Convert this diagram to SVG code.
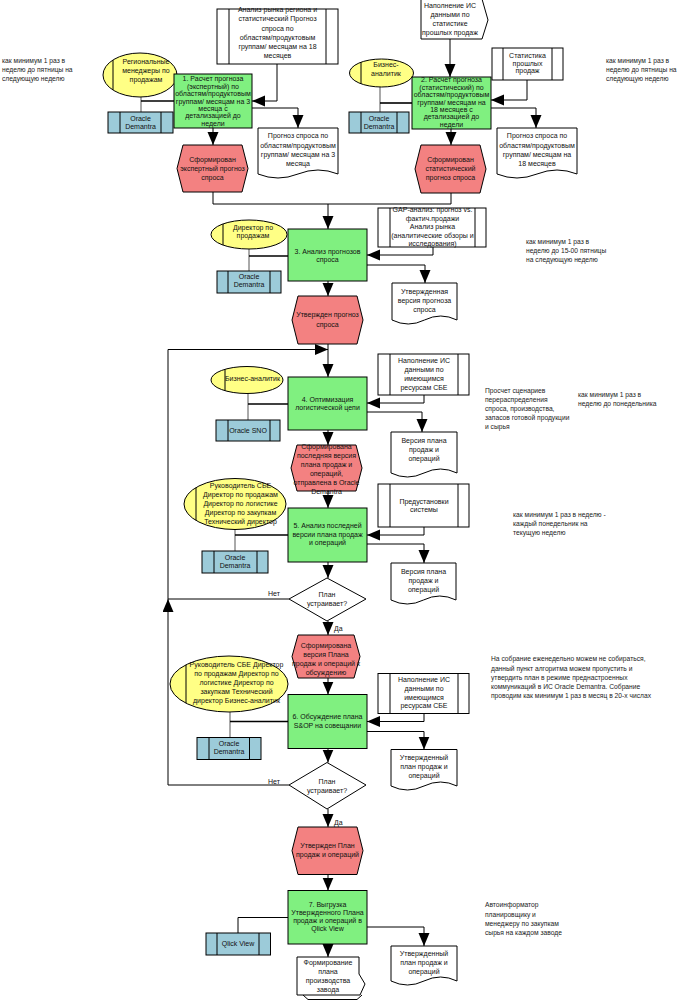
<svg xmlns="http://www.w3.org/2000/svg" width="694" height="1002" viewBox="0 0 694 1002">
<style>
text{font-family:"Liberation Sans",Arial,sans-serif;font-size:7px;fill:#111;text-anchor:middle}
.note{font-size:6.7px;text-anchor:start;fill:#222}
.fn{stroke:#000;stroke-width:1;fill:#80f080}
.ev{stroke:#000;stroke-width:1;fill:#f38181}
.org{stroke:#000;stroke-width:1;fill:#ffff85}
.sys{stroke:#000;stroke-width:1;fill:#9ccbd9}
.dat{stroke:#000;stroke-width:1;fill:#fff}
.bar{stroke:#000;stroke-width:1;fill:none}
.c{stroke:#000;stroke-width:1;fill:none}
.a{stroke:#000;stroke-width:1;fill:none;marker-end:url(#ah)}
.oh{stroke:#000;stroke-width:1.6;fill:none}
.ov{stroke:#555;stroke-width:1;fill:none}
</style>
<defs>
<marker id="ah" markerUnits="userSpaceOnUse" markerWidth="14" markerHeight="12" refX="13" refY="5.5" orient="auto">
<path d="M0,0 L13,5.5 L0,11 Z" fill="#000"/>
</marker>
</defs>
<rect width="694" height="1002" fill="#fff"/>

<g id="connectors">
<!-- section 1 -->
<line class="ov" x1="141" y1="97" x2="141" y2="112"/>
<line class="oh" x1="141" y1="101" x2="174" y2="101"/>
<polyline class="a" points="277,64 277,101 252,101"/>
<polyline class="a" points="252,108 298,108 298,128"/>
<line class="a" x1="213" y1="128" x2="213" y2="145"/>
<!-- section 2 -->
<line class="a" x1="450" y1="39" x2="450" y2="77"/>
<line class="ov" x1="380" y1="84" x2="380" y2="112"/>
<line class="oh" x1="380" y1="103" x2="412" y2="103"/>
<polyline class="a" points="527,80 527,100 491,100"/>
<polyline class="a" points="491,108 536,108 536,128"/>
<line class="a" x1="451" y1="129" x2="451" y2="145"/>
<!-- merge -->
<polyline class="c" points="213,192 213,204 451,204 451,193"/>
<line class="a" x1="328" y1="204" x2="328" y2="229"/>
<!-- section 3 -->
<line class="ov" x1="249" y1="249" x2="249" y2="271"/>
<line class="oh" x1="249" y1="256" x2="288" y2="256"/>
<polyline class="a" points="433,247 433,255 367,255"/>
<polyline class="a" points="367,265 425,265 425,283"/>
<line class="a" x1="328" y1="281" x2="328" y2="296"/>
<!-- section 4 -->
<line class="a" x1="328" y1="344" x2="328" y2="377"/>
<polyline class="a" points="289,599 168,599 168,349.5 328,349.5"/>
<line class="ov" x1="248" y1="393" x2="248" y2="420"/>
<line class="oh" x1="248" y1="404" x2="288" y2="404"/>
<polyline class="a" points="424,395 424,403 367,403"/>
<polyline class="a" points="367,412 422,412 422,432"/>
<line class="a" x1="328" y1="430" x2="328" y2="445"/>
<!-- section 5 -->
<line class="a" x1="328" y1="491" x2="328" y2="508"/>
<line class="ov" x1="235" y1="529" x2="235" y2="551"/>
<line class="oh" x1="235" y1="535" x2="288" y2="535"/>
<polyline class="a" points="424,527 424,535 367,535"/>
<polyline class="a" points="367,544 424,544 424,563"/>
<line class="a" x1="328" y1="562" x2="328" y2="578"/>
<line class="a" x1="328" y1="621" x2="328" y2="635"/>
<!-- section 6 -->
<line class="a" x1="328" y1="678" x2="328" y2="694.5"/>
<line class="ov" x1="230" y1="712" x2="230" y2="737.5"/>
<line class="oh" x1="230" y1="721.5" x2="288" y2="721.5"/>
<polyline class="a" points="424,713.5 424,721.5 367,721.5"/>
<polyline class="a" points="367,731.5 424,731.5 424,749.5"/>
<line class="a" x1="328" y1="748.5" x2="328" y2="762.5"/>
<polyline class="a" points="289,785 168,785 168,599"/>
<line class="a" x1="328" y1="809" x2="328" y2="827"/>
<!-- section 7 -->
<line class="a" x1="328" y1="874.5" x2="328" y2="890.5"/>
<polyline class="c" points="288,917.5 238,917.5 238,933"/>
<polyline class="a" points="367,927 424,927 424,946"/>
<line class="a" x1="328" y1="944" x2="328" y2="957"/>
</g>

<!-- Section 1 -->
<g id="data1">
<rect class="dat" x="217" y="9" width="121" height="55"/>
<line class="bar" x1="229" y1="9" x2="229" y2="64"/><line class="bar" x1="326" y1="9" x2="326" y2="64"/>
<text><tspan x="277.5" y="12.3">Анализ рынка региона и</tspan><tspan x="277.5" y="21.3">статистический Прогноз</tspan><tspan x="277.5" y="30.8">спроса по</tspan><tspan x="277.5" y="39.8">областям/продуктовым</tspan><tspan x="277.5" y="48.8">группам/ месяцам на 18</tspan><tspan x="277.5" y="58.3">месяцев</tspan></text>
</g>
<g id="org1">
<ellipse class="org" cx="140" cy="75" rx="37" ry="22"/>
<line class="bar" x1="113" y1="60" x2="113" y2="90"/>
<text><tspan x="146" y="64.3">Региональные</tspan><tspan x="146" y="73.3">менеджеры по</tspan><tspan x="146" y="82.3">продажам</tspan></text>
</g>
<g id="func1">
<rect class="fn" x="174" y="74" width="78" height="54"/>
<text><tspan x="213" y="81.3">1. Расчет прогноза</tspan><tspan x="213" y="88.7">(экспертный) по</tspan><tspan x="213" y="96.1">областям/продуктовым</tspan><tspan x="213" y="103.5">группам/ месяцам на 3</tspan><tspan x="213" y="110.9">месяца с</tspan><tspan x="213" y="118.3">детализацией до</tspan><tspan x="213" y="125.7">недели</tspan></text>
</g>
<g id="sys1">
<rect class="sys" x="108" y="112" width="65" height="21"/>
<line class="bar" x1="120" y1="112" x2="120" y2="133"/><line class="bar" x1="161" y1="112" x2="161" y2="133"/>
<text><tspan x="140.5" y="120.5">Oracle</tspan><tspan x="140.5" y="129">Demantra</tspan></text>
</g>
<g id="doc1">
<path class="dat" d="M258,128 H338 V174 Q318,166 298,174 T258,174 Z"/>
<text><tspan x="298" y="138.3">Прогноз спроса по</tspan><tspan x="298" y="147.8">областям/продуктовым</tspan><tspan x="298" y="156.5">группам/ месяцам на 3</tspan><tspan x="298" y="165.5">месяца</tspan></text>
</g>
<g id="event1">
<polygon class="ev" points="183,145 242,145 248,168.5 242,192 183,192 177,168.5"/>
<text><tspan x="212.5" y="162.3">Сформирован</tspan><tspan x="212.5" y="171.3">экспертный прогноз</tspan><tspan x="212.5" y="180.3">спроса</tspan></text>
</g>

<!-- Section 2 -->
<g id="input2">
<polygon class="dat" points="421,-1 482,-1 488,20 482,39 421,39"/>
<text><tspan x="450" y="8.3">Наполнение ИС</tspan><tspan x="450" y="17.3">данными по</tspan><tspan x="450" y="26.3">статистике</tspan><tspan x="450" y="35.3">прошлых продаж</tspan></text>
</g>
<g id="org2">
<ellipse class="org" cx="381.5" cy="73" rx="32" ry="14"/>
<line class="bar" x1="361" y1="62.3" x2="361" y2="83.7"/>
<text><tspan x="386" y="67.3">Бизнес-</tspan><tspan x="386" y="76.3">аналитик</tspan></text>
</g>
<g id="func2">
<rect class="fn" x="412" y="77" width="79" height="52"/>
<text><tspan x="451.5" y="82.3">2. Расчет прогноза</tspan><tspan x="451.5" y="89.7">(статистический) по</tspan><tspan x="451.5" y="97.1">областям/продуктовым</tspan><tspan x="451.5" y="104.5">группам/ месяцам на</tspan><tspan x="451.5" y="111.9">18 месяцев с</tspan><tspan x="451.5" y="119.3">детализацией до</tspan><tspan x="451.5" y="126.7">недели</tspan></text>
</g>
<g id="sys2">
<rect class="sys" x="349" y="112" width="60" height="21"/>
<line class="bar" x1="361" y1="112" x2="361" y2="133"/><line class="bar" x1="397" y1="112" x2="397" y2="133"/>
<text><tspan x="379" y="120.5">Oracle</tspan><tspan x="379" y="129">Demantra</tspan></text>
</g>
<g id="data2">
<rect class="dat" x="492" y="48" width="71" height="32"/>
<line class="bar" x1="503" y1="48" x2="503" y2="80"/><line class="bar" x1="552" y1="48" x2="552" y2="80"/>
<text><tspan x="527.5" y="58.3">Статистика</tspan><tspan x="527.5" y="65.6">прошлых</tspan><tspan x="527.5" y="73.3">продаж</tspan></text>
</g>
<g id="doc2">
<path class="dat" d="M497,128 H577 V174 Q557,166 537,174 T497,174 Z"/>
<text><tspan x="537" y="138.3">Прогноз спроса по</tspan><tspan x="537" y="147.8">областям/продуктовым</tspan><tspan x="537" y="156.5">группам/ месяцам на</tspan><tspan x="537" y="165.5">18 месяцев</tspan></text>
</g>
<g id="event2">
<polygon class="ev" points="421,145 480,145 486,169 480,193 421,193 415,169"/>
<text><tspan x="450.5" y="162.3">Сформирован</tspan><tspan x="450.5" y="171.3">статистический</tspan><tspan x="450.5" y="180.3">прогноз спроса</tspan></text>
</g>
<g id="note1">
<text class="note"><tspan x="2" y="63.3">как минимум 1 раз в</tspan><tspan x="2" y="72.3">неделю до пятницы на</tspan><tspan x="2" y="81.3">следующую неделю</tspan></text>
</g>
<g id="note2">
<text class="note"><tspan x="606" y="63.3">как минимум 1 раз в</tspan><tspan x="606" y="72.3">неделю до пятницы на</tspan><tspan x="606" y="81.3">следующую неделю</tspan></text>
</g>

<!-- Section 3 -->
<g id="org3">
<ellipse class="org" cx="249" cy="234.5" rx="38" ry="14.5"/>
<line class="bar" x1="223" y1="224" x2="223" y2="245"/>
<text><tspan x="253" y="229.6">Директор по</tspan><tspan x="253" y="238">продажам</tspan></text>
</g>
<g id="func3">
<rect class="fn" x="288" y="229" width="79" height="52"/>
<text><tspan x="327.5" y="254">3. Анализ прогнозов</tspan><tspan x="327.5" y="261.6">спроса</tspan></text>
</g>
<g id="sys3">
<rect class="sys" x="217" y="271" width="64" height="22"/>
<line class="bar" x1="228" y1="271" x2="228" y2="293"/><line class="bar" x1="270" y1="271" x2="270" y2="293"/>
<text><tspan x="249" y="279">Oracle</tspan><tspan x="249" y="287.3">Demantra</tspan></text>
</g>
<g id="data3">
<rect class="dat" x="378" y="208" width="108" height="39"/>
<line class="bar" x1="390" y1="208" x2="390" y2="247"/><line class="bar" x1="475" y1="208" x2="475" y2="247"/>
<text><tspan x="432.5" y="212.3">GAP-анализ: прогноз vs.</tspan><tspan x="432.5" y="220.7">фактич.продажи</tspan><tspan x="432.5" y="229.1">Анализ рынка</tspan><tspan x="432.5" y="237.5">(аналитические обзоры и</tspan><tspan x="432.5" y="245.9">исследования)</tspan></text>
</g>
<g id="doc3">
<path class="dat" d="M392,283 H457 V320 Q440.75,312 424.5,320 T392,320 Z"/>
<text><tspan x="424.5" y="294">Утвержденная</tspan><tspan x="424.5" y="303.3">версия прогноза</tspan><tspan x="424.5" y="311.6">спроса</tspan></text>
</g>
<g id="event3">
<polygon class="ev" points="298,296 357,296 363,320 357,344 298,344 292,320"/>
<text><tspan x="327.5" y="317.3">Утвержден прогноз</tspan><tspan x="327.5" y="327.3">спроса</tspan></text>
</g>
<g id="note3">
<text class="note"><tspan x="526" y="244.3">как минимум 1 раз в</tspan><tspan x="526" y="253.3">неделю до 15-00 пятницы</tspan><tspan x="526" y="262.3">на следующую неделю</tspan></text>
</g>

<!-- Section 4 -->
<g id="org4">
<ellipse class="org" cx="247" cy="380" rx="36" ry="13.5"/>
<line class="bar" x1="225" y1="369.3" x2="225" y2="390.7"/>
<text><tspan x="252.5" y="381.3">Бизнес-аналитик</tspan></text>
</g>
<g id="func4">
<rect class="fn" x="288" y="377" width="79" height="53"/>
<text><tspan x="327.5" y="401.8">4. Оптимизация</tspan><tspan x="327.5" y="409.6">логистической цепи</tspan></text>
</g>
<g id="sys4">
<rect class="sys" x="216" y="420" width="64" height="21"/>
<line class="bar" x1="228" y1="420" x2="228" y2="441"/><line class="bar" x1="270" y1="420" x2="270" y2="441"/>
<text><tspan x="248" y="432.5">Oracle SNO</tspan></text>
</g>
<g id="data4">
<rect class="dat" x="378" y="354" width="91" height="41"/>
<line class="bar" x1="390" y1="354" x2="390" y2="395"/><line class="bar" x1="458" y1="354" x2="458" y2="395"/>
<text><tspan x="424" y="363.3">Наполнение ИС</tspan><tspan x="424" y="372.1">данными по</tspan><tspan x="424" y="380.9">имеющимся</tspan><tspan x="424" y="389.7">ресурсам СБЕ</tspan></text>
</g>
<g id="doc4">
<path class="dat" d="M391,432 H457 V473 Q440.5,465 424,473 T391,473 Z"/>
<text><tspan x="424" y="443.3">Версия плана</tspan><tspan x="424" y="452.3">продаж и</tspan><tspan x="424" y="461.3">операций</tspan></text>
</g>
<g id="event4">
<polygon class="ev" points="297,445 356,445 362,468 356,491 297,491 291,468"/>
<text><tspan x="326.5" y="449.3">Сформирована</tspan><tspan x="326.5" y="458.3">последняя версия</tspan><tspan x="326.5" y="467.3">плана продаж и</tspan><tspan x="326.5" y="476.3">операций,</tspan><tspan x="326.5" y="485.3">отправлена в Oracle</tspan><tspan x="326.5" y="494.3">Demantra</tspan></text>
</g>
<g id="note4a">
<text class="note"><tspan x="485" y="393.3">Просчет сценариев</tspan><tspan x="485" y="402.3">перераспределения</tspan><tspan x="485" y="411.3">спроса, производства,</tspan><tspan x="485" y="420.3">запасов готовой продукции</tspan><tspan x="485" y="429.3">и сырья</tspan></text>
</g>
<g id="note4b">
<text class="note"><tspan x="578" y="396.7">как минимум 1 раз в</tspan><tspan x="578" y="405.7">неделю до понедельника</tspan></text>
</g>

<!-- Section 5 -->
<g id="org5">
<ellipse class="org" cx="235" cy="504" rx="51" ry="25.5"/>
<line class="bar" x1="196" y1="487.6" x2="196" y2="520.4"/>
<text><tspan x="240.5" y="488.3">Руководитель СБЕ</tspan><tspan x="240.5" y="497.3">Директор по продажам</tspan><tspan x="240.5" y="506.3">Директор по логистике</tspan><tspan x="240.5" y="515.3">Директор по закупкам</tspan><tspan x="240.5" y="524.3">Технический директор</tspan></text>
</g>
<g id="func5">
<rect class="fn" x="288" y="508" width="79" height="54"/>
<text><tspan x="327.5" y="528.3">5. Анализ последней</tspan><tspan x="327.5" y="536.5">версии плана продаж</tspan><tspan x="327.5" y="544.7">и операций</tspan></text>
</g>
<g id="sys5">
<rect class="sys" x="202" y="551" width="66" height="22"/>
<line class="bar" x1="214" y1="551" x2="214" y2="573"/><line class="bar" x1="257" y1="551" x2="257" y2="573"/>
<text><tspan x="235" y="560.1">Oracle</tspan><tspan x="235" y="568">Demantra</tspan></text>
</g>
<g id="data5">
<rect class="dat" x="378" y="484" width="91" height="43"/>
<line class="bar" x1="390" y1="484" x2="390" y2="527"/><line class="bar" x1="458" y1="484" x2="458" y2="527"/>
<text><tspan x="424" y="503.6">Предустановки</tspan><tspan x="424" y="512.3">системы</tspan></text>
</g>
<g id="doc5">
<path class="dat" d="M391,563 H456 V600 Q439.75,592 423.5,600 T391,600 Z"/>
<text><tspan x="423.5" y="573.7">Версия плана</tspan><tspan x="423.5" y="582.8">продаж и</tspan><tspan x="423.5" y="592">операций</tspan></text>
</g>
<g id="note5">
<text class="note"><tspan x="513" y="517.3">как минимум 1 раз в неделю -</tspan><tspan x="513" y="526.3">каждый понедельник на</tspan><tspan x="513" y="535.3">текущую неделю</tspan></text>
</g>
<g id="decision1">
<polygon class="dat" points="327,578 366,599 327,621 289,599"/>
<text><tspan x="327" y="596.8">План</tspan><tspan x="327" y="606.3">устраивает?</tspan></text>
</g>
<g id="label-net1"><text x="274" y="596.3">Нет</text></g>
<g id="label-da1"><text x="334" y="630.8" style="text-anchor:start">Да</text></g>

<!-- Section 6 -->
<g id="event5">
<polygon class="ev" points="298,635 354,635 360,656.5 354,678 298,678 292,656.5"/>
<text><tspan x="326" y="647.8">Сформирована</tspan><tspan x="326" y="656.8">версия Плана</tspan><tspan x="326" y="665.8">продаж и операций к</tspan><tspan x="326" y="674.8">обсуждению</tspan></text>
</g>
<g id="org6">
<ellipse class="org" cx="229" cy="684" rx="59" ry="28"/>
<line class="bar" x1="186" y1="664.8" x2="186" y2="703.2"/>
<text><tspan x="236.5" y="667.3">Руководитель СБЕ Директор</tspan><tspan x="236.5" y="676.3">по продажам Директор по</tspan><tspan x="236.5" y="685.3">логистике Директор по</tspan><tspan x="236.5" y="694.3">закупкам Технический</tspan><tspan x="236.5" y="703.3">директор Бизнес-аналитик</tspan></text>
</g>
<g id="func6">
<rect class="fn" x="288" y="694.5" width="79" height="54"/>
<text><tspan x="327.5" y="719.3">6. Обсуждение плана</tspan><tspan x="327.5" y="728">S&amp;OP на совещании</tspan></text>
</g>
<g id="sys6">
<rect class="sys" x="197" y="737.5" width="64" height="22"/>
<line class="bar" x1="209" y1="737.5" x2="209" y2="759.5"/><line class="bar" x1="249.5" y1="737.5" x2="249.5" y2="759.5"/>
<text><tspan x="229" y="746">Oracle</tspan><tspan x="229" y="754.3">Demantra</tspan></text>
</g>
<g id="data6">
<rect class="dat" x="378" y="673.5" width="91" height="40"/>
<line class="bar" x1="390" y1="673.5" x2="390" y2="713.5"/><line class="bar" x1="458" y1="673.5" x2="458" y2="713.5"/>
<text><tspan x="424" y="682.3">Наполнение ИС</tspan><tspan x="424" y="690.9">данными по</tspan><tspan x="424" y="699.5">имеющимся</tspan><tspan x="424" y="708.1">ресурсам СБЕ</tspan></text>
</g>
<g id="doc6">
<path class="dat" d="M391,749.5 H457 V786 Q440.5,778 424,786 T391,786 Z"/>
<text><tspan x="424" y="760.3">Утвержденный</tspan><tspan x="424" y="769.3">план продаж и</tspan><tspan x="424" y="778.3">операций</tspan></text>
</g>
<g id="note6">
<text class="note"><tspan x="491" y="661.3">На собрание еженедельно можем не собираться,</tspan><tspan x="491" y="670.5">данный пункт алгоритма можем пропустить и</tspan><tspan x="491" y="679.7">утвердить план в режиме преднастроенных</tspan><tspan x="491" y="688.9">коммуникаций в ИС Oracle Demantra. Собрание</tspan><tspan x="491" y="698.1">проводим как минимум 1 раз в месяц в 20-х числах</tspan></text>
</g>
<g id="decision2">
<polygon class="dat" points="327,762.5 366,785 327,809 289,785"/>
<text><tspan x="327" y="783.8">План</tspan><tspan x="327" y="793.3">устраивает?</tspan></text>
</g>
<g id="label-net2"><text x="274" y="784.3">Нет</text></g>
<g id="label-da2"><text x="334" y="825" style="text-anchor:start">Да</text></g>

<!-- Section 7 -->
<g id="event6">
<polygon class="ev" points="298,827 357,827 363,850.7 357,874.5 298,874.5 292,850.7"/>
<text><tspan x="327.5" y="847.8">Утвержден План</tspan><tspan x="327.5" y="857">продаж и операций</tspan></text>
</g>
<g id="func7">
<rect class="fn" x="288" y="890.5" width="79" height="53.5"/>
<text><tspan x="327.5" y="907.3">7. Выгрузка</tspan><tspan x="327.5" y="915.3">Утвержденного Плана</tspan><tspan x="327.5" y="923.3">продаж и операций в</tspan><tspan x="327.5" y="931.3">Qlick View</tspan></text>
</g>
<g id="sys7">
<rect class="sys" x="206" y="933" width="64.5" height="22"/>
<line class="bar" x1="217" y1="933" x2="217" y2="955"/><line class="bar" x1="259" y1="933" x2="259" y2="955"/>
<text><tspan x="238" y="946">Qlick View</tspan></text>
</g>
<g id="doc7">
<path class="dat" d="M391,946 H457 V981 Q440.5,973 424,981 T391,981 Z"/>
<text><tspan x="424" y="956">Утвержденный</tspan><tspan x="424" y="965.2">план продаж и</tspan><tspan x="424" y="974.3">операций</tspan></text>
</g>
<g id="interface7">
<polyline class="c" points="303,995 308,999.5 357,999.5 362,995"/>
<polygon class="dat" points="297,957 359,957 359,974 365,984 360,995 297,995"/>
<text><tspan x="328" y="965.3">Формирование</tspan><tspan x="328" y="974.1">плана</tspan><tspan x="328" y="982.9">производства</tspan><tspan x="328" y="991.7">завода</tspan></text>
</g>
<g id="note7">
<text class="note"><tspan x="485" y="907.3">Автоинформатор</tspan><tspan x="485" y="916.6">планировщику и</tspan><tspan x="485" y="925.9">менеджеру по закупкам</tspan><tspan x="485" y="935.2">сырья на каждом заводе</tspan></text>
</g>
</svg>
